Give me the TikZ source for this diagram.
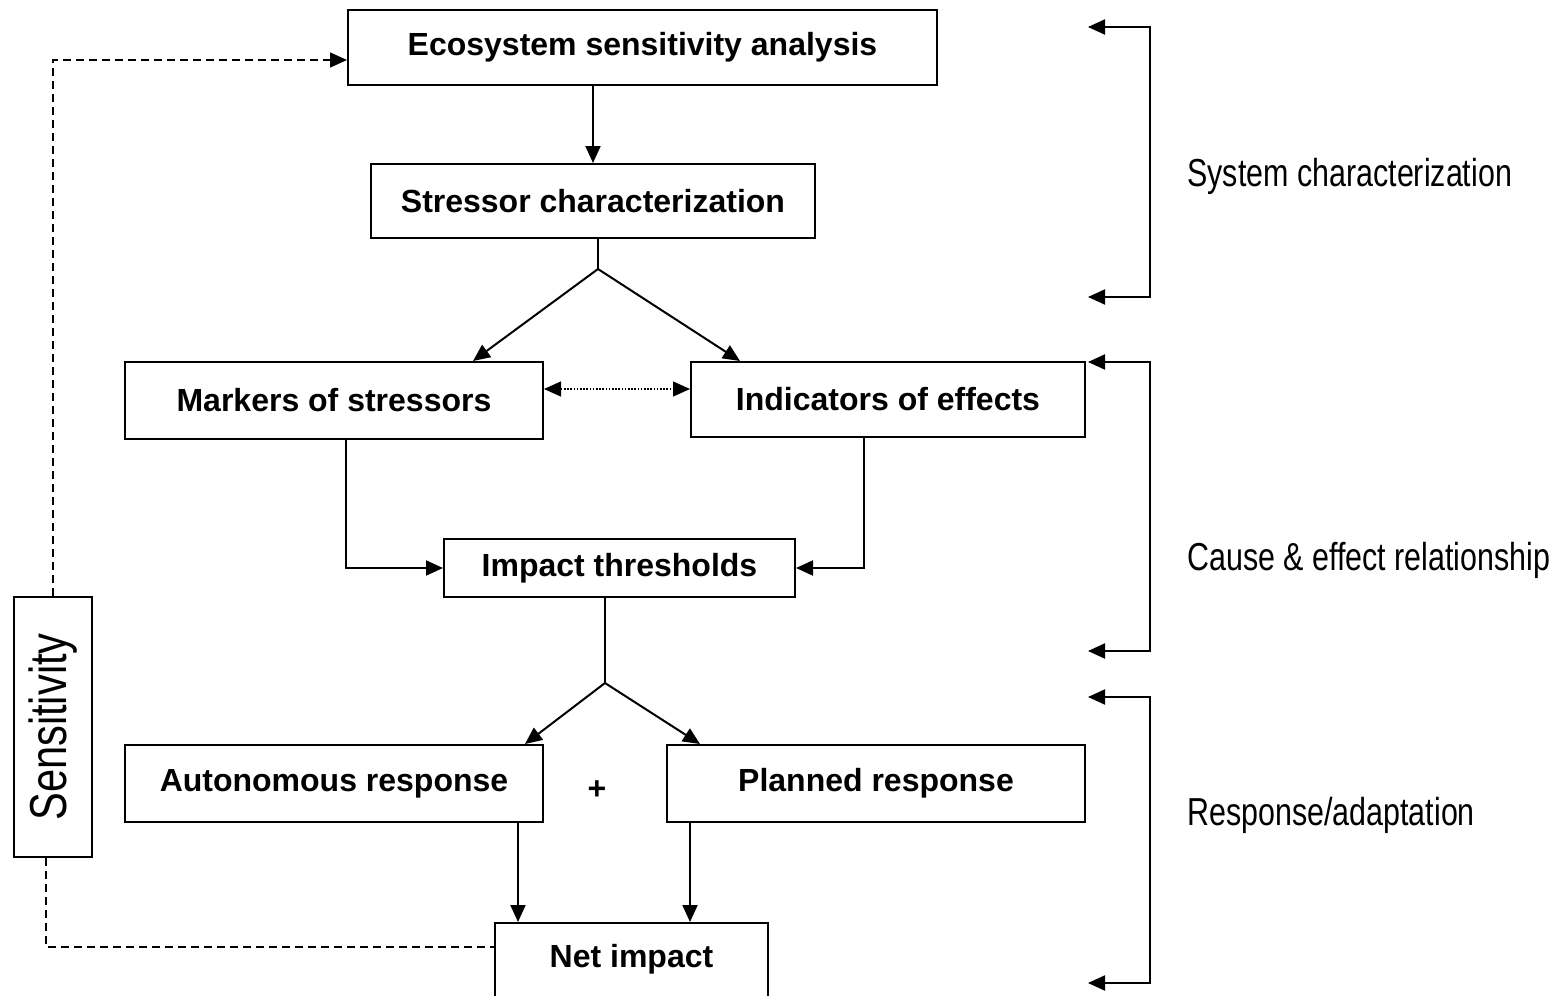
\documentclass[tikz,border=0pt]{standalone}
\usepackage{fontspec}
\setmainfont{Liberation Sans}
\newfontfamily\narrowfont[FakeStretch=0.78]{Liberation Sans}
\newfontfamily\sensfont[FakeStretch=0.8]{Liberation Sans}
\usepackage{tikz}
\usetikzlibrary{arrows.meta,calc}

\begin{document}
\begin{tikzpicture}[x=0.5pt,y=-0.5pt,
  box/.style={draw, line width=1pt, font=\bfseries\fontsize{16}{19}\selectfont, align=center, inner sep=0pt},
  arr/.style={-{Triangle[length=8.5pt,width=7.5pt]}, line width=1pt},
  twoarr/.style={{Triangle[length=8.5pt,width=7.5pt]}-{Triangle[length=8.5pt,width=7.5pt]}, line width=1pt},
  dotarr/.style={{Triangle[length=8.5pt,width=7.5pt]}-{Triangle[length=8.5pt,width=7.5pt]}, line width=0.6pt, dash pattern=on 0.8pt off 0.8pt},
  dasharr/.style={-{Triangle[length=8.5pt,width=7.5pt]}, line width=0.7pt, dash pattern=on 4pt off 2.5pt},
  dashln/.style={line width=0.7pt, dash pattern=on 4pt off 2.5pt},
  side/.style={font=\narrowfont\fontsize{19.5}{23}\selectfont, anchor=base west, inner sep=0pt}]
  \useasboundingbox (0,0) rectangle (1560,996);

  % boxes
  \node[box, minimum width=294.5pt, minimum height=37.5pt] (eco) at (642.5,47.5) {Ecosystem sensitivity analysis};
  \node[box, minimum width=222pt, minimum height=37pt] (stress) at (593,201) {Stressor characterization};
  \node[box, minimum width=209pt, minimum height=38.5pt] (markers) at (334,400.5) {Markers of stressors};
  \node[box, minimum width=197pt, minimum height=37.5pt] (indic) at (888,399.5) {Indicators of effects};
  \node[box, minimum width=175.5pt, minimum height=29pt] (impact) at (619.5,568) {Impact thresholds};
  \node[box, minimum width=209pt, minimum height=38.5pt] (auto) at (334,783.5) {Autonomous response};
  \node[box, minimum width=209pt, minimum height=38.5pt] (plan) at (876,783.5) {Planned response};
  \node[box, minimum width=136.5pt, anchor=north, text height=22pt, text depth=22pt] (net) at (631.5,922) {Net impact};
  \node[font=\bfseries\fontsize{16}{19}\selectfont] (plus) at (597,790) {+};
  \node[draw, line width=1pt, rotate=90, minimum width=130pt, minimum height=39pt, inner sep=0pt,
        font=\sensfont\fontsize{26}{30}\selectfont] (sens) at (53,727) {Sensitivity};

  % main flow
  \draw[arr] (stress.north |- eco.south) -- (stress.north);
  \coordinate (fork1) at (598,269);
  \draw[line width=1pt] ([xshift=2.5pt]stress.south) -- (fork1);
  \draw[arr] (fork1) -- ([xshift=69.5pt]markers.north);
  \draw[arr] (fork1) -- ([xshift=-74pt]indic.north);
  \draw[dotarr] ([yshift=5.75pt]markers.east) -- ([yshift=5.75pt]markers.east -| indic.west);
  \draw[arr] ([xshift=6pt]markers.south) |- (impact.west);
  \draw[arr] ([xshift=-12pt]indic.south) |- (impact.east);
  \coordinate (fork2) at (605,683);
  \draw[line width=1pt] ([xshift=-7.25pt]impact.south) -- (fork2);
  \draw[arr] (fork2) -- ([xshift=95.5pt]auto.north);
  \draw[arr] (fork2) -- ([xshift=-88pt]plan.north);
  \draw[arr] ([xshift=92pt]auto.south) -- ([xshift=92pt]auto.south |- net.north);
  \draw[arr] ([xshift=-93pt]plan.south) -- ([xshift=-93pt]plan.south |- net.north);

  % sensitivity feedback
  \draw[dasharr] (sens.east) |- ([yshift=-6.25pt]eco.west);
  \draw[dashln] ([xshift=-3.5pt]sens.west) |- ([yshift=-12.5pt]net.north west);

  % brackets on the right
  \coordinate (b1t) at (1088,27);  \coordinate (b1b) at (1088,297);
  \coordinate (b2t) at (1088,362); \coordinate (b2b) at (1088,651);
  \coordinate (b3t) at (1088,697); \coordinate (b3b) at (1088,983);
  \draw[twoarr] (b1t) -- ++(62,0) |- (b1b);
  \draw[twoarr] (b2t) -- ++(62,0) |- (b2b);
  \draw[twoarr] (b3t) -- ++(62,0) |- (b3b);
  \node[side] (lsys) at (1187,186) {System characterization};
  \node[side] (lcause) at (1187,570) {Cause \& effect relationship};
  \node[side] (lresp) at (1187,825) {Response/adaptation};
\end{tikzpicture}
\end{document}
